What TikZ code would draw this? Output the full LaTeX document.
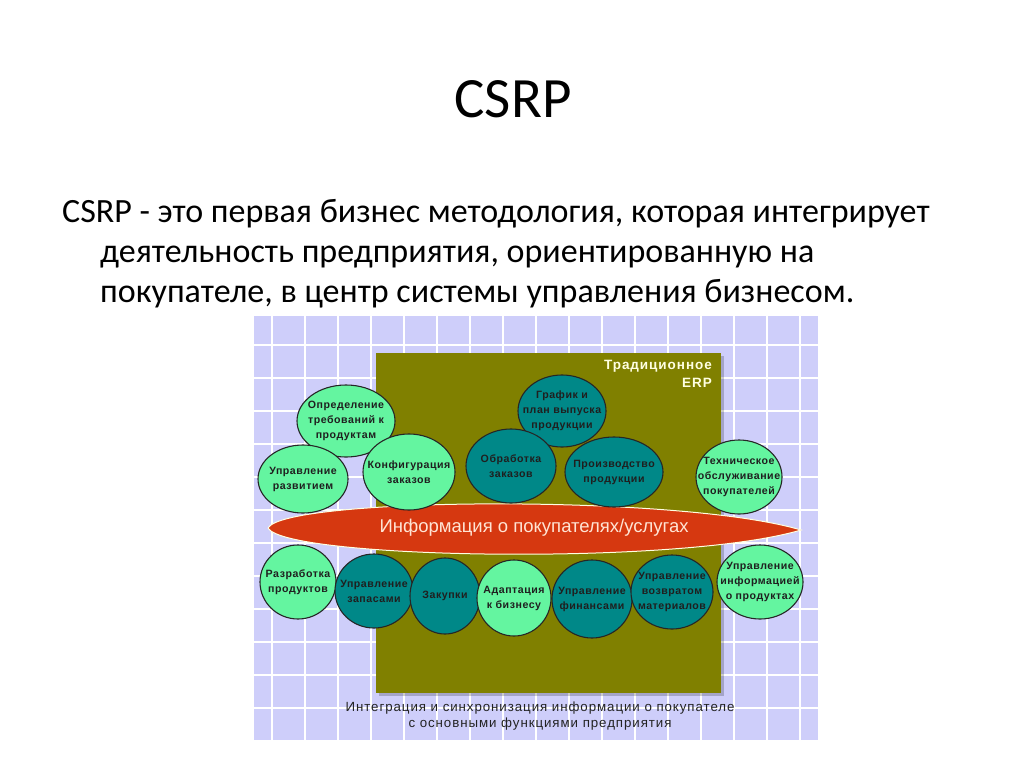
\documentclass[tikz,border=0pt]{standalone}
\usepackage{fontspec}
\usetikzlibrary{shapes.geometric}
\setmainfont{Carlito}
\newfontfamily\dfont{Liberation Sans}[LetterSpace=7]
\newfontfamily\dfontc{Liberation Sans}[LetterSpace=5]
\newfontfamily\dfontb{Liberation Sans}[LetterSpace=0]
\definecolor{lav}{RGB}{206,206,250}
\definecolor{oliv}{RGB}{128,128,0}
\definecolor{mint}{RGB}{100,245,160}
\definecolor{tealc}{RGB}{0,136,136}
\definecolor{redc}{RGB}{214,56,16}
\definecolor{cream}{RGB}{255,255,225}
\definecolor{lenstxt}{RGB}{255,228,212}
\definecolor{captxt}{RGB}{35,35,35}
\tikzset{
  bub/.style={ellipse, draw={black!85}, line width=1.1pt, inner sep=0pt},
  lbl/.style={align=center, inner sep=0pt, text=black!88,
    font=\dfontc\bfseries\fontsize{10.6}{15}\selectfont},
  lg/.style={bub, fill=mint},
  tl/.style={bub, fill=tealc},
  bodytext/.style={anchor=base west, inner sep=0pt, font=\fontsize{34}{40}\selectfont},
}
\begin{document}
\begin{tikzpicture}[x=1pt,y=-1pt]
\useasboundingbox[fill=white] (0,0) rectangle (1024,768);
% title and text
\node[anchor=base, inner sep=0pt, font=\fontsize{57}{60}\selectfont] (title) at (513,117) {CSRP};
\node[bodytext] (l1) at (62,222) {CSRP - это первая бизнес методология, которая интегрирует};
\node[bodytext] (l2) at (100,262) {деятельность предприятия, ориентированную на};
\node[bodytext] (l3) at (100,302) {покупателе, в центр системы управления бизнесом.};
% grid panel
\fill[lav] (254,316) rectangle (818,742);
\foreach \k in {0,...,16} \draw[white, line width=2pt] (272+33*\k,316) -- (272+33*\k,742);
\foreach \k in {0,...,12} \draw[white, line width=2pt] (254,345+33*\k) -- (818,345+33*\k);
% ERP box
\fill[black, opacity=0.2] (379,356) rectangle (724,696);
\fill[oliv] (376,353) rectangle (721,693);
\node[anchor=north east, align=right, inner sep=0pt, text=cream,
  font=\dfont\bfseries\fontsize{13.5}{18}\selectfont] (erp) at (712,360) {Традиционное\\ERP};
% customer information lens
\path[fill=redc, draw=cream, line width=1pt] (268,528) .. controls (285,497) and (680,494) .. (801,530)
  .. controls (680,566) and (285,559) .. (268,528);
\node[text=lenstxt, inner sep=0pt, font=\dfontb\fontsize{18.5}{20}\selectfont] (lens) at (534,528) {Информация о покупателях/услугах};
% upper bubbles
\node[lg, minimum width=98, minimum height=72, label={[lbl]center:{Определение\\требований к\\продуктам}}] (opr) at (346,421) {};
\node[lg, minimum width=90, minimum height=68, label={[lbl]center:{Управление\\развитием}}] (razv) at (303,479) {};
\node[lg, minimum width=92, minimum height=76, label={[lbl]center:{Конфигурация\\заказов}}] (konf) at (409,472) {};
\node[tl, minimum width=88, minimum height=72, label={[lbl]center:{График и\\план выпуска\\продукции}}] (graf) at (562,411) {};
\node[tl, minimum width=90, minimum height=74, label={[lbl]center:{Обработка\\заказов}}] (obr) at (511,466) {};
\node[tl, minimum width=98, minimum height=70, label={[lbl]center:{Производство\\продукции}}] (proiz) at (614,472) {};
\node[lg, minimum width=86, minimum height=74, label={[lbl]center:{Техническое\\обслуживание\\покупателей}}] (tech) at (739,477) {};
% lower bubbles
\node[lg, minimum width=76, minimum height=74, label={[lbl]center:{Разработка\\продуктов}}] (razr) at (298,582) {};
\node[tl, minimum width=78, minimum height=74, label={[lbl]center:{Управление\\запасами}}] (zap) at (374,591) {};
\node[tl, minimum width=70, minimum height=76, label={[lbl]center:{Закупки}}] (zak) at (445,596) {};
\node[lg, minimum width=74, minimum height=76, label={[lbl]center:{Адаптация\\к бизнесу}}] (adapt) at (514,598) {};
\node[tl, minimum width=80, minimum height=78, label={[lbl]center:{Управление\\финансами}}] (fin) at (592,599) {};
\node[tl, minimum width=82, minimum height=74, label={[lbl]center:{Управление\\возвратом\\материалов}}] (vozv) at (672,592) {};
\node[lg, minimum width=86, minimum height=74, label={[lbl]center:{Управление\\информацией\\о продуктах}}] (info) at (760,582) {};
% caption
\node[align=center, inner sep=0pt, text=captxt, font=\dfont\fontsize{13.3}{16.7}\selectfont] (cap) at (540,716)
  {Интеграция и синхронизация информации о покупателе\\с основными функциями предприятия};
\end{tikzpicture}
\end{document}
